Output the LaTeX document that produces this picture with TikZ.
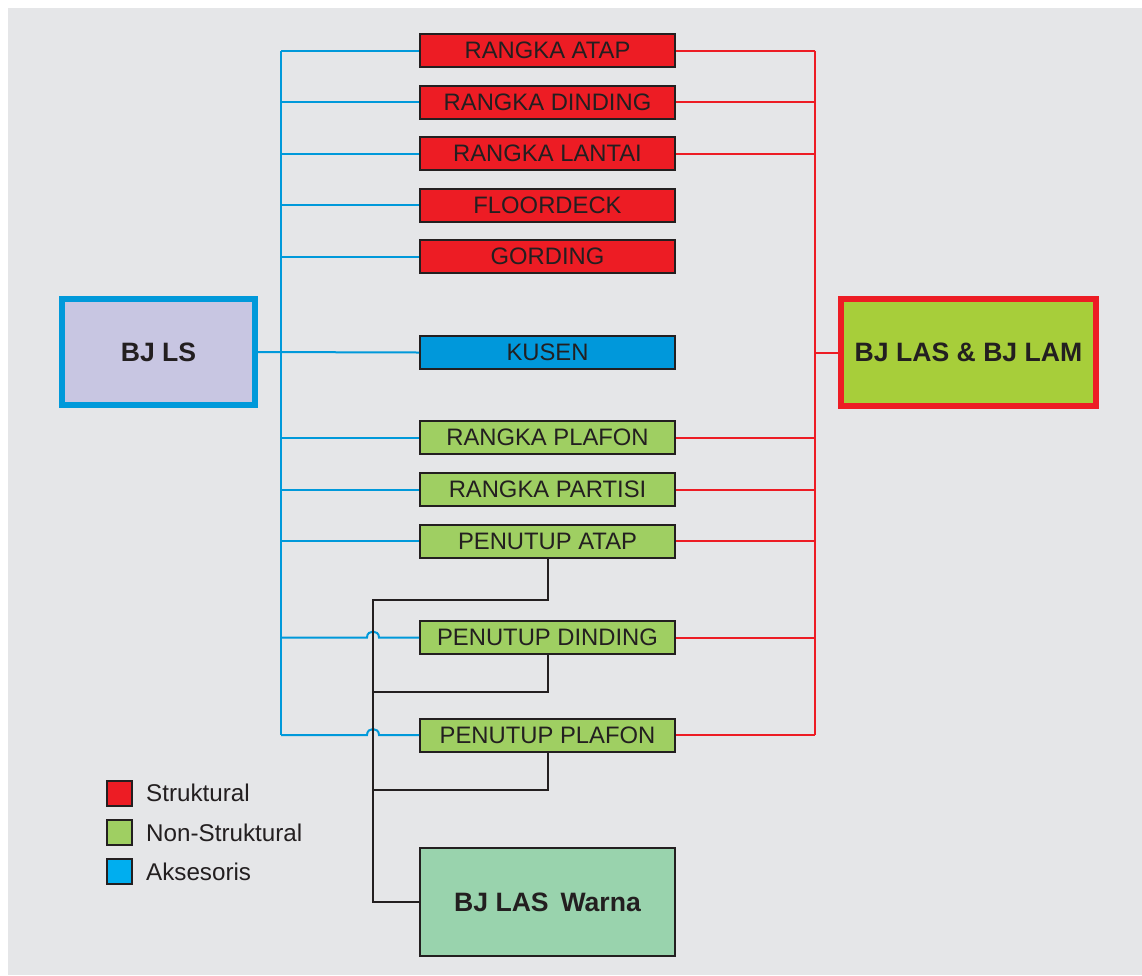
\documentclass[tikz,border=0pt]{standalone}
\usepackage{fontspec}
\setmainfont{Liberation Sans}
\definecolor{bgray}{HTML}{E5E6E8}
\definecolor{sred}{HTML}{ED1C24}
\definecolor{sgreen}{HTML}{9FCF62}
\definecolor{lgreen}{HTML}{A7CE3A}
\definecolor{lilac}{HTML}{C8C6E2}
\definecolor{lblue}{HTML}{0099DA}
\definecolor{kblue}{HTML}{0098DB}
\definecolor{ablue}{HTML}{00AEEF}
\definecolor{mint}{HTML}{99D3AD}
\definecolor{ink}{HTML}{231F20}
\tikzset{
  item/.style={draw=ink, line width=2pt, minimum width=255pt, minimum height=33pt,
    inner sep=0pt, font=\fontsize{23.8}{25}\selectfont, text=ink},
  struk/.style={item, fill=sred},
  nonstruk/.style={item, fill=sgreen},
  aks/.style={item, fill=kblue},
  bigbox/.style={line width=6pt, inner sep=0pt, text=ink,
    font=\fontsize{26.6}{28}\selectfont\bfseries},
  bluln/.style={draw=lblue, line width=2pt},
  redln/.style={draw=sred, line width=2pt},
  blkln/.style={draw=ink, line width=2pt},
  keybox/.style={draw=ink, line width=2pt, minimum size=25pt, inner sep=0pt},
  keytext/.style={anchor=west, inner sep=0pt, text=ink, font=\fontsize{24.2}{25}\selectfont}
}
\begin{document}
\begin{tikzpicture}[x=1pt, y=-1pt]
  \useasboundingbox (0,0) rectangle (1142,975);
  \fill[white] (0,0) rectangle (1142,975);
  \fill[bgray] (8,8) rectangle (1142,975);

  % main sources
  \node[bigbox, draw=lblue, fill=lilac, minimum width=193pt, minimum height=106pt] (ls) at (158.5,352) {BJ LS};
  \node[bigbox, draw=sred, fill=lgreen, minimum width=255pt, minimum height=107pt] (lam) at (968.5,352.5) {BJ LAS \& BJ LAM};
  \node[bigbox, draw=ink, line width=2pt, fill=mint, minimum width=255pt, minimum height=108pt] (warna) at (547.5,902) {BJ LAS\, Warna};

  % components
  \node[struk] (ra) at (547.5,50.5) {RANGKA ATAP};
  \node[struk] (rd) at (547.5,102) {RANGKA DINDING};
  \node[struk] (rl) at (547.5,153.5) {RANGKA LANTAI};
  \node[struk] (fd) at (547.5,205) {FLOORDECK};
  \node[struk] (gd) at (547.5,256.5) {GORDING};
  \node[aks] (ku) at (547.5,352.5) {KUSEN};
  \node[nonstruk] (rp) at (547.5,437.5) {RANGKA PLAFON};
  \node[nonstruk] (rs) at (547.5,489.5) {RANGKA PARTISI};
  \node[nonstruk] (pa) at (547.5,541) {PENUTUP ATAP};
  \node[nonstruk] (pd) at (547.5,637.5) {PENUTUP DINDING};
  \node[nonstruk] (pp) at (547.5,735) {PENUTUP PLAFON};

  % blue distribution from BJ LS
  \coordinate (bt) at (281,50.5);
  \coordinate (bb) at (281,735);
  \draw[bluln] (bt) -- (bb);
  \foreach \n in {ra,rd,rl,fd,gd,rp,rs,pa}
    \draw[bluln] (bt |- \n.west) -- (\n.west);
  \draw[bluln] (ls.east) -- (ku.west);
  % hops over the black trunk
  \coordinate (jx) at (373,0);
  \foreach \n in {pd,pp}
    \draw[bluln] (bt |- \n.west) -- ([xshift=-6pt]jx |- \n.west)
      .. controls ([xshift=-6pt,yshift=8pt]jx |- \n.west) and ([xshift=6pt,yshift=8pt]jx |- \n.west) ..
      ([xshift=6pt]jx |- \n.west) -- (\n.west);

  % red distribution from BJ LAS & BJ LAM
  \coordinate (rt) at (815,50.5);
  \coordinate (rb) at (815,735);
  \draw[redln] (rt) -- (rb);
  \foreach \n in {ra,rd,rl,rp,rs,pa,pd,pp}
    \draw[redln] (\n.east) -- (rt |- \n.east);
  \draw[redln] (rt |- lam.west) -- (lam.west);

  % black distribution from BJ LAS Warna
  \coordinate (k1) at (373,600);
  \coordinate (k2) at (373,692);
  \coordinate (k3) at (373,790);
  \draw[blkln] (pa.south) |- (k1) |- (warna.west);
  \draw[blkln] (pd.south) |- (k2);
  \draw[blkln] (pp.south) |- (k3);

  % legend
  \node[keybox, fill=sred] (k-s) at (119.5,793) {};
  \node[keybox, fill=sgreen] (k-n) at (119.5,832.5) {};
  \node[keybox, fill=ablue] (k-a) at (119.5,871.5) {};
  \node[keytext] (t-s) at (146,793) {Struktural};
  \node[keytext] (t-n) at (146,832.5) {Non-Struktural};
  \node[keytext] (t-a) at (146,871.5) {Aksesoris};
\end{tikzpicture}
\end{document}
